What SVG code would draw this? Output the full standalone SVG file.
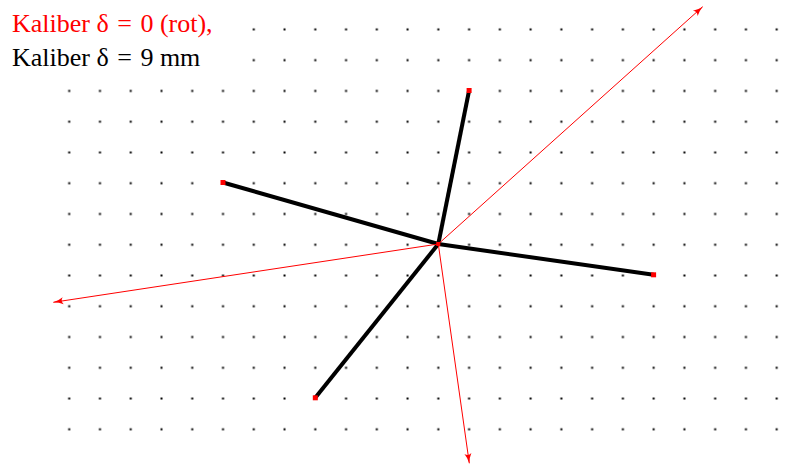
<svg xmlns="http://www.w3.org/2000/svg" width="800" height="464" viewBox="0 0 800 464">
<style>
.lbl{font-family:"Liberation Serif","Times New Roman",serif;font-size:26px;white-space:pre}
.bar{stroke:#000;stroke-width:4;stroke-linecap:butt;fill:none}
.vec{stroke:#ff0000;stroke-width:1;fill:none}
.pt{fill:#ff0000}
</style>
<defs>
<pattern id="dots" patternUnits="userSpaceOnUse" x="53.82" y="14.02" width="30.76" height="30.76">
<rect x="14.4" y="14.4" width="2" height="2" fill="#000"/>
</pattern>
<marker id="ah" markerUnits="userSpaceOnUse" markerWidth="14" markerHeight="10" refX="11" refY="5" orient="auto" viewBox="0 0 14 10">
<path d="M1,1.5 Q5,4 11,5 Q5,6 1,8.5 Q4,5 1,1.5 Z" fill="#ff0000"/>
</marker>
</defs>
<g id="grid">
<rect x="53.82" y="75.52" width="738.24" height="369.12" fill="url(#dots)"/>
<rect x="238.38" y="14.02" width="553.68" height="61.5" fill="url(#dots)"/>
</g>
<g id="labels">
<text class="lbl" x="12" y="32" fill="#ff0000">Kaliber δ<tspan dx="2"> = </tspan><tspan dx="2">0 (rot),</tspan></text>
<text class="lbl" x="12" y="66" fill="#000">Kaliber δ<tspan dx="2"> = </tspan><tspan dx="2">9 mm</tspan></text>
</g>
<g id="connectors">
<line id="bar-top" class="bar" x1="438.3" y1="244" x2="469.1" y2="90.5"/>
<line id="bar-left" class="bar" x1="438.3" y1="244" x2="223" y2="182.5"/>
<line id="bar-right" class="bar" x1="438.3" y1="244" x2="653.6" y2="274.8"/>
<line id="bar-bottom" class="bar" x1="438.3" y1="244" x2="315.3" y2="397.8"/>
<line id="vec-ne" class="vec" x1="438.3" y1="244" x2="702.7" y2="6.7" marker-end="url(#ah)"/>
<line id="vec-w" class="vec" x1="438.3" y1="244" x2="53.3" y2="302.3" marker-end="url(#ah)"/>
<line id="vec-s" class="vec" x1="438.3" y1="244" x2="469.3" y2="463.3" marker-end="url(#ah)"/>
</g>
<g id="node-center"><rect class="pt" x="436.3" y="242" width="4" height="4"/></g>
<g id="node-top"><rect class="pt" x="466.6" y="88" width="5" height="5"/></g>
<g id="node-left"><rect class="pt" x="220.5" y="180" width="5" height="5"/></g>
<g id="node-right"><rect class="pt" x="651.1" y="272.3" width="5" height="5"/></g>
<g id="node-bottom"><rect class="pt" x="312.8" y="395.3" width="5" height="5"/></g>
</svg>
